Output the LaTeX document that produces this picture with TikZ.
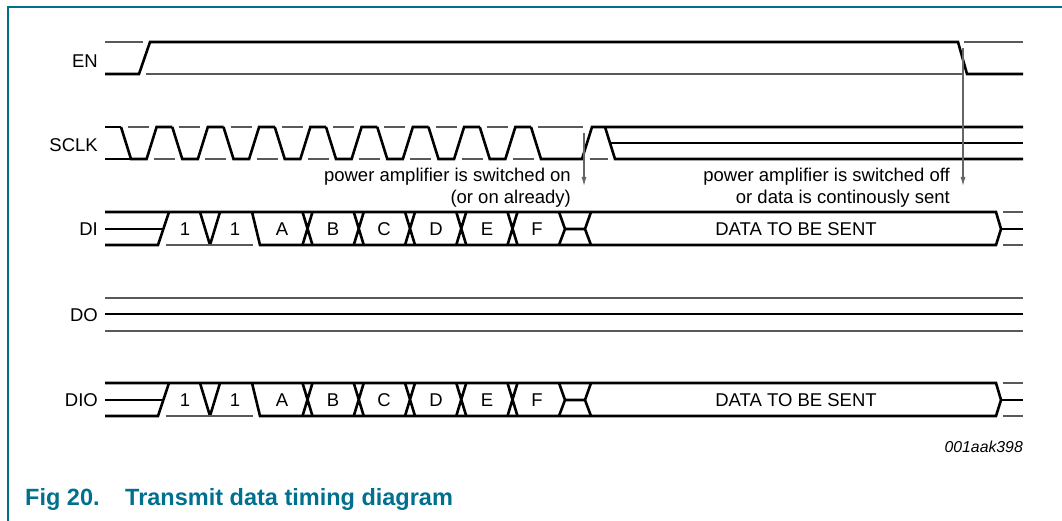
\documentclass[tikz,border=0pt]{standalone}
\usepackage{fontspec}
\setmainfont{Liberation Sans}
\usetikzlibrary{arrows.meta}
\definecolor{figteal}{RGB}{0,112,143}
\tikzset{
  sig/.style={line width=2.6pt, miter limit=2},
  ghost/.style={line width=1.1pt, black!65},
  txt/.style={font=\fontsize{18.5}{22}\selectfont, inner sep=0pt},
  capt/.style={font=\fontsize{23.5}{28}\selectfont\bfseries, text=figteal, inner sep=0pt, anchor=base west},
  marker/.style={line width=1.1pt, black!60, -{Latex[length=9pt,width=5pt]}}
}
\begin{document}
\begin{tikzpicture}[x=1pt,y=-1pt]
 \useasboundingbox (0,0) rectangle (1062,521);
 % frame
 \draw[figteal,line width=1.8pt] (8,521) -- (8,7) -- (1062,7);
 % signal names
 \node[txt,anchor=east] (en)   at (98,61)  {EN};
 \node[txt,anchor=east] (sclk) at (98,145) {SCLK};
 \node[txt,anchor=east] (di)   at (98,229) {DI};
 \node[txt,anchor=east] (do)   at (98,315) {DO};
 \node[txt,anchor=east] (dio)  at (98,400) {DIO};
 % EN
 \draw[ghost] (105,42) -- (143,42) (146,74) -- (962,74) (964,42) -- (1023,42);
 \draw[sig] (105,74) -- (139,74) -- (150,42) -- (958,42) -- (967,74) -- (1023,74);
 % SCLK
 \draw[sig] (105,159) -- (132,159);
 \draw[sig] (105,127) -- (121,127);
 \foreach \k in {0,...,7}{
   \pgfmathsetmacro\f{121+51.25*\k}
   \draw[ghost] (\f+7,127) -- (\f+28,127) (\f+33,159) -- (\f+54,159);
   \draw[sig] (\f,127) -- (\f+10,159) -- (\f+25.6,159) -- (\f+35.6,127) -- (\f+51.25,127);
 }
 \draw[ghost] (538,127) -- (583,127) (590,159) -- (608,159);
 \draw[sig] (531,127) -- (541,159) -- (582,159) -- (592,127) -- (1023,127);
 \draw[sig] (605,127) -- (615,159) -- (1023,159);
 \draw[sig] (610,143) -- (1023,143);
 % DI and DIO
 \foreach \dy in {0,171}{
  \begin{scope}[shift={(0,\dy)}]
   \draw[sig] (105,212) -- (996,212) -- (1001,229) -- (996,245) -- (260,245) -- (252,212);
   \draw[sig] (105,229) -- (163,229);
   \draw[sig] (105,245) -- (158,245) -- (169,212);
   \draw[sig] (200,212) -- (210,245) -- (220,212);
   \draw[ghost] (166,245) -- (253,245);
   \foreach \c in {307.5,358.75,410,461.25,512.5}
     \draw[sig] (\c-5,212) -- (\c+5,245) (\c-5,245) -- (\c+5,212);
   \draw[sig] (559,212) -- (565,229) -- (559,245) (565,229) -- (585,229)
              (591,212) -- (585,229) -- (591,245);
   \draw[sig] (1001,229) -- (1023,229);
   \draw[ghost] (1003,212) -- (1023,212) (1003,245) -- (1023,245);
   \foreach \t/\x in {1/185,1/235,A/282,B/333,C/384,D/436,E/487,F/537}
     \node[txt] (bit\x-\dy) at (\x,229) {\t};
   \node[txt] (data-\dy) at (796,229) {DATA TO BE SENT};
  \end{scope}
 }
 % DO
 \draw[ghost] (105,298) -- (1023,298) (105,331) -- (1023,331);
 \draw[sig] (105,314) -- (1023,314);
 % power amplifier notes
 \coordinate (onfrom) at (584,133);
 \coordinate (onto) at (584,186);
 \draw[marker] (onfrom) -- (onto);
 \coordinate (offfrom) at (963,48);
 \coordinate (offto) at (963,186);
 \draw[marker] (offfrom) -- (offto);
 \node[txt,anchor=base east] (on1)  at (571,182) {power amplifier is switched on};
 \node[txt,anchor=base east] (on2)  at (571,204) {(or on already)};
 \node[txt,anchor=base east] (off1) at (950,182) {power amplifier is switched off};
 \node[txt,anchor=base east] (off2) at (950,204) {or data is continously sent};
 \node[txt,anchor=base east,font=\fontsize{15.8}{18}\selectfont\itshape] (code) at (1023,452) {001aak398};
 % caption
 \node[capt] (fignum) at (25,505) {Fig 20.};
 \node[capt] (title) at (125,505) {Transmit data timing diagram};
\end{tikzpicture}
\end{document}
